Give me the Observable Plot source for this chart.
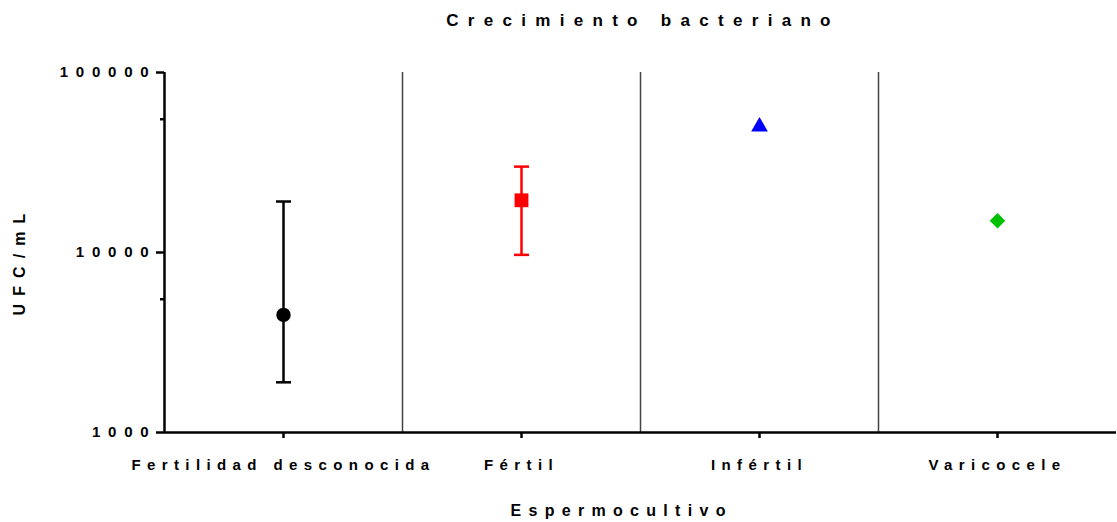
<!DOCTYPE html>
<html>
<head>
<meta charset="utf-8">
<script src="https://cdn.jsdelivr.net/npm/d3@7"></script>
<script src="https://cdn.jsdelivr.net/npm/@observablehq/plot@0.6"></script>
<style>
  html, body { margin: 0; padding: 0; background: #fff; }
  #chart svg { font-family: "Liberation Sans", Arial, sans-serif; font-weight: bold; }
  #chart g[aria-label="y-axis tick label"] text { font-size: 15px; letter-spacing: 7.8px; }
  #chart g[aria-label="x-axis tick label"] text { font-size: 15px; letter-spacing: 6.4px; }
  #chart g.title text { letter-spacing: 9.3px; }
  #chart g.ylab text { letter-spacing: 8.1px; }
  #chart g.xlab text { letter-spacing: 7.3px; }
</style>
</head>
<body>
<div id="chart"></div>
<script>
const categories = ["Fertilidad desconocida", "Fértil", "Infértil", "Varicocele"];
const means = [4500, 19500, 50000, 15000];
const errLow = [1900, 9700, null, null];
const errHigh = [19200, 30000, null, null];
const colors = ["#000000", "#ff0000", "#0000ff", "#00c000"];
const symbols = ["circle", "square", "triangle", "diamond2"];
const yTicks = [1000, 10000, 100000];
const yMinorTicks = [5500, 55000];
const separators = [0.5, 1.5, 2.5];
const titleText = "Crecimiento bacteriano";
const yLabel = "UFC/mL";
const xLabel = "Espermocultivo";

const rows = categories.map((c, i) => ({
  i, category: c, mean: means[i], lo: errLow[i], hi: errHigh[i],
  color: colors[i], symbol: symbols[i]
}));
const errRows = rows.filter(d => d.lo != null);
const symbolRadius = { circle: 7.2, square: 7.8, triangle: 6.2, diamond2: 7 };

const cap = { draw(ctx) { ctx.moveTo(-7.5, 0); ctx.lineTo(7.5, 0); } };

const marks = [
  Plot.ruleX(separators, { stroke: "#444", strokeWidth: 1.5 }),
  Plot.axisY({ ticks: yTicks, tickFormat: d => String(d), tickSize: 8, tickPadding: 0, strokeWidth: 2.5, fontSize: 15, fontWeight: "bold", fill: "#000", label: null }),
  Plot.axisY({ ticks: yMinorTicks, tickFormat: () => "", tickSize: 4, strokeWidth: 2.5, label: null }),
  Plot.axisX({ ticks: [0, 1, 2, 3], tickFormat: i => categories[i], tickSize: 6, tickPadding: 21, strokeWidth: 2.5, fontSize: 15, fontWeight: "bold", fill: "#000", label: null }),
  Plot.ruleX([-0.5], { stroke: "#000", strokeWidth: 2.5 }),
  Plot.ruleY([1000], { stroke: "#000", strokeWidth: 2.5 }),
];
for (const d of errRows) {
  marks.push(Plot.ruleX([d], { x: "i", y1: "lo", y2: "hi", stroke: d.color, strokeWidth: 2.5 }));
  marks.push(Plot.dot([d], { x: "i", y: "lo", symbol: cap, r: 6, stroke: d.color, strokeWidth: 2.5, fill: "none" }));
  marks.push(Plot.dot([d], { x: "i", y: "hi", symbol: cap, r: 6, stroke: d.color, strokeWidth: 2.5, fill: "none" }));
}
for (const d of rows) {
  marks.push(Plot.dot([d], { x: "i", y: "mean", symbol: d.symbol, fill: d.color, stroke: "none", r: symbolRadius[d.symbol] }));
}
marks.push(Plot.text([titleText], { frameAnchor: "top", textAnchor: "middle", lineAnchor: "middle", dx: 2.5, dy: -52, fontSize: 17, fontWeight: "bold", fill: "#000", className: "title" }));
marks.push(Plot.text([yLabel], { frameAnchor: "left", textAnchor: "middle", lineAnchor: "middle", dx: -145, dy: 8, rotate: -90, fontSize: 16, fontWeight: "bold", fill: "#000", className: "ylab" }));
marks.push(Plot.text([xLabel], { frameAnchor: "bottom", textAnchor: "middle", lineAnchor: "middle", dx: -18.9, dy: 78, fontSize: 16, fontWeight: "bold", fill: "#000", className: "xlab" }));

const chart = Plot.plot({
  width: 1117,
  height: 522,
  marginLeft: 164,
  marginRight: 1,
  marginTop: 72,
  marginBottom: 90,
  x: { type: "linear", domain: [-0.5, 3.5] },
  y: { type: "log", domain: [1000, 100000] },
  marks
});
document.getElementById("chart").appendChild(chart);
</script>
</body>
</html>
